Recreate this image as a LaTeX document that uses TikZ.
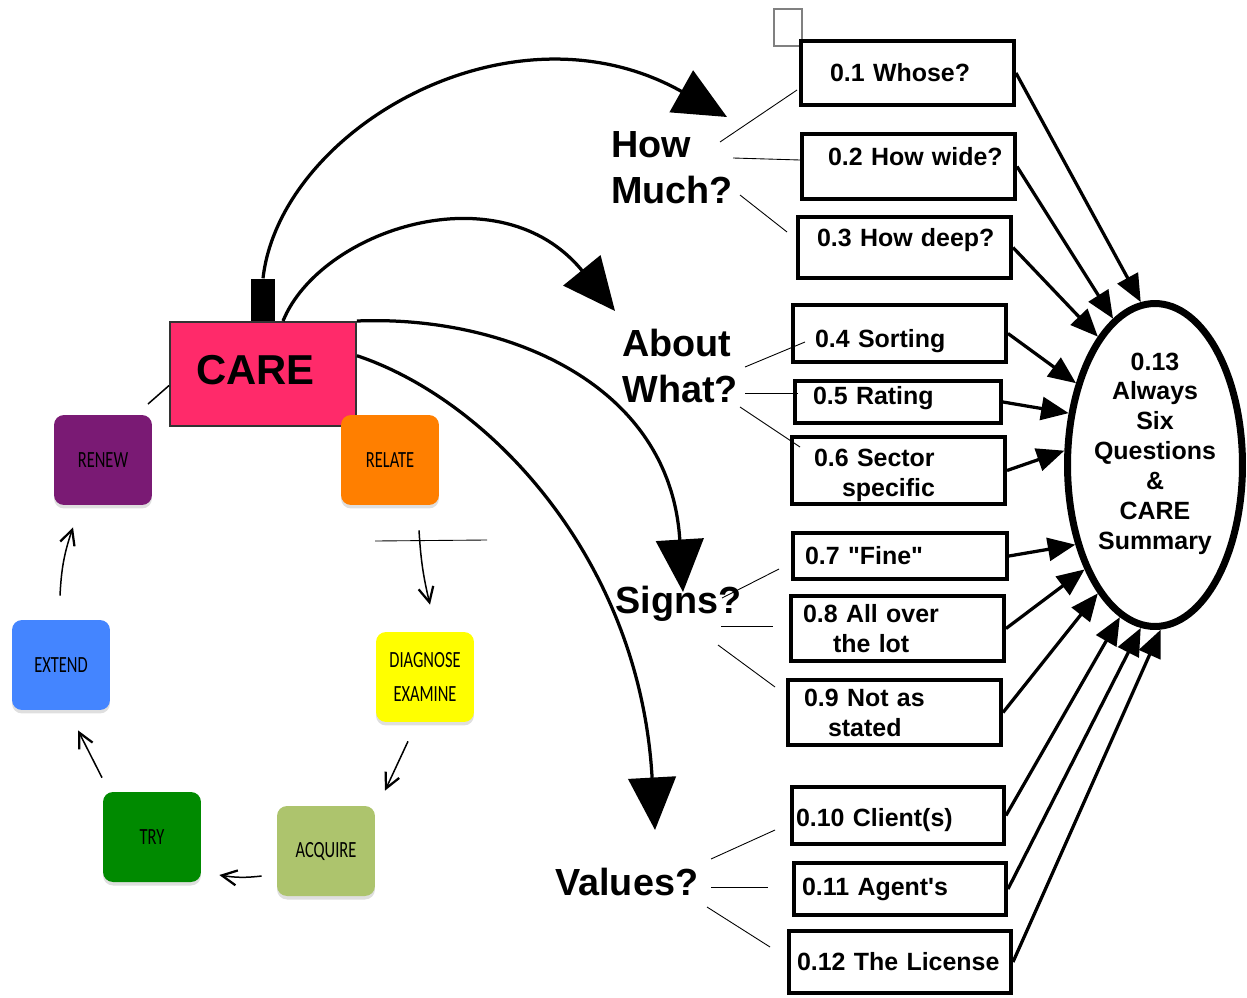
\documentclass[tikz,border=0pt]{standalone}
\usepackage{fontspec}
\newfontfamily\helv{Liberation Sans}
\newfontfamily\phasefont[FakeStretch=0.71]{Carlito}
\usetikzlibrary{arrows.meta,calc,shadows,shapes.geometric}

\definecolor{carepink}{RGB}{255,42,106}
\definecolor{renewpurple}{RGB}{122,26,116}
\definecolor{relateorange}{RGB}{255,127,0}
\definecolor{diagyellow}{RGB}{255,255,0}
\definecolor{acquiregreen}{RGB}{173,196,109}
\definecolor{trygreen}{RGB}{0,138,0}
\definecolor{extendblue}{RGB}{68,133,255}

\begin{document}
\begin{tikzpicture}[
  x=0.02cm, y=-0.02cm,
  care/.style={draw=black!80,line width=0.04cm,fill=carepink,minimum width=3.72cm,minimum height=2.08cm,
    font=\helv\bfseries\fontsize{23.8}{28}\selectfont},
  phase/.style={rounded corners=0.2cm,minimum width=1.96cm,minimum height=1.8cm,align=center,
    font=\phasefont\fontsize{13.2}{19.8}\selectfont,drop shadow={shadow xshift=0cm,shadow yshift=-0.07cm,opacity=.25}},
  ask/.style={anchor=base west,inner sep=0pt,text width=3.6cm,align=left,
    font=\helv\bfseries\fontsize{21.5}{26.6}\selectfont},
  qbox/.style={draw,line width=0.08cm,text width=4.26cm,inner xsep=0pt,inner ysep=0.05cm,align=left,
    font=\helv\bfseries\fontsize{14.2}{17}\selectfont},
  bigarrow/.style={line width=0.065cm,-{Triangle[width=0.95cm,length=1.05cm]}},
  feedarrow/.style={line width=0.065cm,-{Triangle[width=0.46cm,length=0.55cm]}},
  cycarrow/.style={line width=0.03cm,-{Straight Barb[length=0.3cm,width=0.3cm,line width=0.045cm]}},
  tieline/.style={line width=0.5pt}
]
  \useasboundingbox (0,0) rectangle (1247,997);

  \node[care,text depth=0.16cm] (CARE) at (263,374) {CARE\hspace*{0.3cm}};
  \node[fill=black,inner sep=0pt,minimum width=0.48cm,minimum height=0.84cm,anchor=south] (stub) at (CARE.north) {};
  \draw[line width=0.03cm] (CARE.187) -- (148,404);

  \node[phase,fill=renewpurple] (renew) at (103,460) {RENEW};
  \node[phase,fill=relateorange] (relate) at (390,460) {RELATE};
  \node[phase,fill=diagyellow] (diagnose) at (425,677) {DIAGNOSE\\EXAMINE};
  \node[phase,fill=acquiregreen] (acquire) at (326,851) {ACQUIRE};
  \node[phase,fill=trygreen] (try) at (152,837) {TRY};
  \node[phase,fill=extendblue] (extend) at (61,665) {EXTEND};

  \draw[tieline] (375,541) -- (487,540);
  \draw[cycarrow] ($(relate.south)+(29,25)$) to[bend right=5] ($(diagnose.north)+(5,-27)$);
  \draw[cycarrow] ($(diagnose.south)+(-17,19)$) -- ($(acquire.north)+(59,-15)$);
  \draw[cycarrow] ($(acquire.west)+(-15,25)$) to[bend left=8] ($(try.east)+(18,38)$);
  \draw[cycarrow] ($(try.north)+(-50,-14)$) -- ($(extend.south)+(17,20)$);
  \draw[cycarrow] ($(extend.north)+(-1,-24)$) to[bend left=8] ($(renew.south)+(-30,22)$);

  \node[ask] (howmuch) at (611,157) {How\\Much?};
  \node[ask] (aboutwhat) at (622,356) {About\\What?};
  \node[ask] (signs) at (615,613) {Signs?};
  \node[ask] (values) at (555,895) {Values?};

  \node[draw=gray,line width=0.6pt,inner sep=0pt,minimum width=0.56cm,minimum height=0.74cm] (blank) at (788,27.5) {};

  \node[qbox,minimum height=1.28cm] (q1) at (907.5,73) {\hspace*{0.58cm}0.1 Whose?};
  \node[qbox,minimum height=1.3cm,text depth=0.42cm] (q2) at (908.5,166.5) {\hspace*{0.52cm}0.2 How wide?};
  \node[qbox,minimum height=1.22cm,text depth=0.4cm] (q3) at (904.5,247.5) {\hspace*{0.38cm}0.3 How deep?};
  \node[qbox,minimum height=1.14cm,text height=0.67cm] (q4) at (899.5,333.5) {\hspace*{0.44cm}0.4 Sorting};
  \node[qbox,minimum height=0.84cm,text width=4.12cm,text depth=0.26cm] (q5) at (898,402) {\hspace*{0.36cm}0.5 Rating};
  \node[qbox,minimum height=1.3cm,text height=0.55cm] (q6) at (898.5,470.5) {\hspace*{0.44cm}0.6 Sector\\\hspace*{1cm}specific};
  \node[qbox,minimum height=0.92cm,text width=4.28cm] (q7) at (900,556) {\hspace*{0.24cm}0.7 "Fine"};
  \node[qbox,minimum height=1.3cm] (q8) at (897.5,628.5) {\hspace*{0.24cm}0.8 All over\\\hspace*{0.84cm}the lot};
  \node[qbox,minimum height=1.3cm] (q9) at (894.5,712.5) {\hspace*{0.32cm}0.9 Not as\\\hspace*{0.8cm}stated};
  \node[qbox,minimum height=1.14cm,text width=4.24cm,text height=0.55cm] (q10) at (898,815.5) {\hspace*{0.08cm}0.10 Client(s)};
  \node[qbox,minimum height=1.04cm,text width=4.24cm] (q11) at (900,889) {\hspace*{0.16cm}0.11 Agent's};
  \node[qbox,minimum height=1.24cm,text width=4.44cm] (q12) at (900,962) {\hspace*{0.16cm}0.12 The License};

  \node[draw,ellipse,line width=0.14cm,minimum width=3.5cm,minimum height=6.46cm,inner sep=0pt,align=center,
    font=\helv\bfseries\fontsize{14.2}{17}\selectfont] (summary) at (1155,465)
    {0.13\\Always\\Six\\Questions\\\&\\CARE\\Summary\rule[-0.56cm]{0pt}{0.56cm}};

  \draw[tieline] ($(howmuch.base west)+(109,-15)$) -- ($(q1.west)+(-2,17)$);
  \draw[tieline] ($(howmuch.base west)+(122,1)$) -- ($(q2.west)+(0,-6.5)$);
  \draw[tieline] ($(howmuch.base west)+(129,38)$) -- ($(q3.west)+(-9,-15.5)$);
  \draw[tieline] ($(aboutwhat.base west)+(123,11)$) -- ($(q4.west)+(14,8.5)$);
  \draw[tieline] ($(aboutwhat.base west)+(123,37)$) -- ($(q5.west)+(5,-9)$);
  \draw[tieline] ($(aboutwhat.base west)+(118,51)$) -- ($(q6.west)+(10,-23.5)$);
  \draw[tieline] ($(signs.base west)+(107,-15)$) -- ($(q7.west)+(-12,13)$);
  \draw[tieline] ($(signs.base west)+(106,13)$) -- ($(q8.west)+(-16,-2.5)$);
  \draw[tieline] ($(signs.base west)+(103,32)$) -- ($(q9.west)+(-11,-25.5)$);
  \draw[tieline] ($(values.base west)+(156,-36)$) -- ($(q10.west)+(-15,14.5)$);
  \draw[tieline] ($(values.base west)+(156,-8)$) -- ($(q11.west)+(-24,-2)$);
  \draw[tieline] ($(values.base west)+(152,12)$) -- ($(q12.west)+(-17,-15)$);

  \foreach \q/\a in {q1/95,q2/106,q3/114,q4/134,q5/149,q6/171,q7/225,q8/236,q9/246,q10/257,q11/265,q12/272}
    \draw[feedarrow] (\q.east) -- (summary.\a);

  \coordinate (hmtip) at (727,117);
  \coordinate (awtip) at (615,311);
  \coordinate (sgtip) at (683,592);
  \coordinate (vatip) at (655,830);
  \draw[bigarrow] (stub.north) .. controls (280,130) and (510,-5) .. (hmtip);
  \draw[bigarrow] ([xshift=0.4cm]CARE.north) .. controls (320,230) and (500,170) .. (awtip);
  \draw[bigarrow] (CARE.north east) .. controls (500,315) and (670,380) .. (sgtip);
  \draw[bigarrow] (CARE.11) .. controls (490,400) and (640,560) .. (vatip);
\end{tikzpicture}
\end{document}
